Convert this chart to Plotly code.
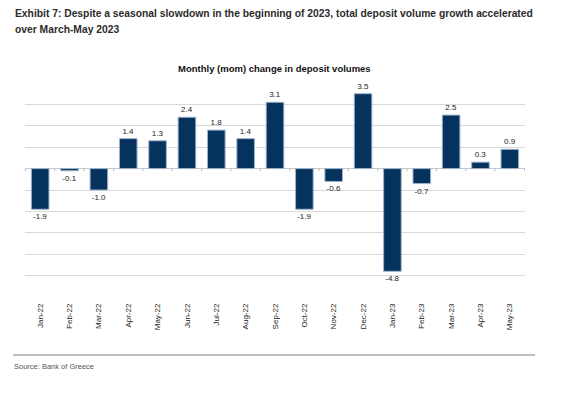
import plotly.graph_objects as go

categories = ["Jan-22", "Feb-22", "Mar-22", "Apr-22", "May-22", "Jun-22", "Jul-22", "Aug-22",
              "Sep-22", "Oct-22", "Nov-22", "Dec-22", "Jan-23", "Feb-23", "Mar-23", "Apr-23", "May-23"]
values = [-1.9, -0.1, -1.0, 1.4, 1.3, 2.4, 1.8, 1.4, 3.1, -1.9, -0.6, 3.5, -4.8, -0.7, 2.5, 0.3, 0.9]
labels = [f"{v:.1f}" for v in values]

L, T, W, H = 25, 83, 500, 214  # plot area in pixels


def px(x):
    return (x - L) / W


def py(y):
    return 1 - (y - T) / H


fig = go.Figure()
fig.add_trace(go.Bar(
    x=categories, y=values, text=labels, textposition="outside",
    textfont=dict(family="Arial, Liberation Sans", size=8, color="#222222"),
    marker=dict(color="#06325e", line=dict(color="#9db4cc", width=1)),
    cliponaxis=False,
))

fig.update_layout(
    width=570, height=394,
    margin=dict(l=L, r=570 - L - W, t=T, b=394 - T - H),
    paper_bgcolor="white", plot_bgcolor="white",
    showlegend=False, bargap=0.4,
    xaxis=dict(tickangle=-90, tickfont=dict(family="Arial, Liberation Sans", size=8, color="#222222"),
               showgrid=False, ticks="", showline=False, ticklabelstandoff=4),
    yaxis=dict(range=[-6, 4], dtick=1, showticklabels=False, showgrid=True,
               gridcolor="#d9d9d9", gridwidth=1, zeroline=True, zerolinecolor="#c8c8c8",
               zerolinewidth=1, showline=False),
)

# small tick marks on the zero line between categories
for i in range(len(categories) + 1):
    fig.add_shape(type="line", xref="x", yref="y", x0=i - 0.5, x1=i - 0.5, y0=0, y1=-0.12,
                  line=dict(color="#bdbdbd", width=1))

title_font = dict(family="Liberation Sans, Arial", size=10.3, color="#2b2b2b")
fig.add_annotation(text="<b>Exhibit 7: Despite a seasonal slowdown in the beginning of 2023, total deposit volume growth accelerated</b>",
                   xref="paper", yref="paper", x=px(13), y=py(14), xanchor="left", yanchor="middle",
                   showarrow=False, font=title_font)
fig.add_annotation(text="<b>over March-May 2023</b>",
                   xref="paper", yref="paper", x=px(13), y=py(29), xanchor="left", yanchor="middle",
                   showarrow=False, font=title_font)
fig.add_annotation(text="<b>Monthly (mom) change in deposit volumes</b>",
                   xref="paper", yref="paper", x=px(274), y=py(68), xanchor="center", yanchor="middle",
                   showarrow=False,
                   font=dict(family="Arial, Liberation Sans", size=9.5, color="#111111"))
fig.add_shape(type="line", xref="paper", yref="paper",
              x0=px(13), x1=px(535), y0=py(355), y1=py(355),
              line=dict(color="#7f7f7f", width=1))
fig.add_annotation(text="Source: Bank of Greece",
                   xref="paper", yref="paper", x=px(12), y=py(366), xanchor="left", yanchor="middle",
                   showarrow=False,
                   font=dict(family="Liberation Sans, Arial", size=7.5, color="#555555"))

fig.write_html("out.html", config={"displayModeBar": False},
               post_script="document.body.style.margin='0px';")
